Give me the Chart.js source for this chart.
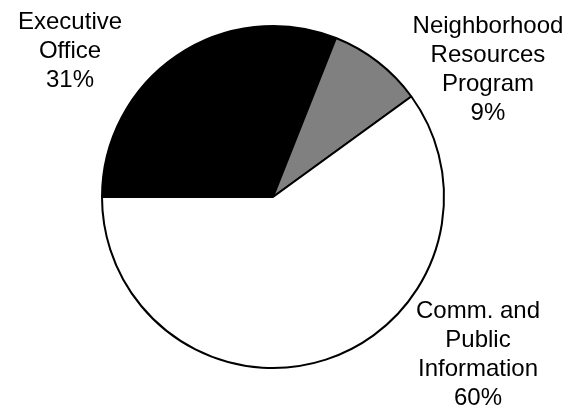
<!DOCTYPE html>
<html>
<head>
<meta charset="utf-8">
<script src="https://cdn.jsdelivr.net/npm/chart.js@4"></script>
<style>
  html, body { margin: 0; padding: 0; background: #fff; }
  #wrap { width: 570px; height: 407px; }
</style>
</head>
<body>
<div id="wrap"><canvas id="budgetPie" width="570" height="407"></canvas></div>
<script>
// data
var categories = [
    ['Executive', 'Office'],
    ['Neighborhood', 'Resources', 'Program'],
    ['Comm. and', 'Public', 'Information']
];
var shares = [31, 9, 60];
var sliceColors = ['#000000', '#808080', '#ffffff'];

// where each label block sits, as angle (deg, canvas) and distance in radii from the pie centre
var labelPlacement = [
    { angle: -143.9, dist: 1.469 },
    { angle: -30.9, dist: 1.465 },
    { angle: 37.2, dist: 1.505 }
];

var FONT_SIZE = 24;
var LINE_PITCH = 29;

var outsideLabels = {
    id: 'outsideLabels',
    afterDraw: function(chart) {
        var ctx = chart.ctx;
        var arcs = chart.getDatasetMeta(0).data;
        var total = shares.reduce(function(a, b) { return a + b; }, 0);
        ctx.save();
        ctx.fillStyle = '#000';
        ctx.font = FONT_SIZE + 'px "Liberation Sans", Arial, sans-serif';
        ctx.textAlign = 'center';
        ctx.textBaseline = 'alphabetic';
        arcs.forEach(function(arc, i) {
            var p = arc.getProps(['x', 'y', 'outerRadius'], true);
            var place = labelPlacement[i];
            var a = place.angle * Math.PI / 180;
            var cx = p.x + Math.cos(a) * p.outerRadius * place.dist;
            var cy = p.y + Math.sin(a) * p.outerRadius * place.dist;
            var lines = categories[i].concat([Math.round(shares[i] / total * 100) + '%']);
            var capH = FONT_SIZE * 0.716;
            var blockH = (lines.length - 1) * LINE_PITCH + capH;
            var y0 = cy - blockH / 2 + capH;
            lines.forEach(function(line, k) {
                ctx.fillText(line, cx, y0 + k * LINE_PITCH);
            });
        });
        ctx.restore();
    }
};

var ctx = document.getElementById('budgetPie').getContext('2d');
var pie = new Chart(ctx, {
    type: 'pie',
    data: {
        labels: categories.map(function(c) { return c.join(' '); }),
        datasets: [{
            data: shares,
            backgroundColor: sliceColors,
            borderColor: '#000000',
            borderWidth: 2
        }]
    },
    options: {
        responsive: false,
        animation: false,
        rotation: -90,
        radius: 171,
        layout: {
            padding: { left: 90, right: 114, top: 15, bottom: 28 }
        },
        plugins: {
            legend: { display: false },
            tooltip: { enabled: false }
        }
    },
    plugins: [outsideLabels]
});
</script>
</body>
</html>
